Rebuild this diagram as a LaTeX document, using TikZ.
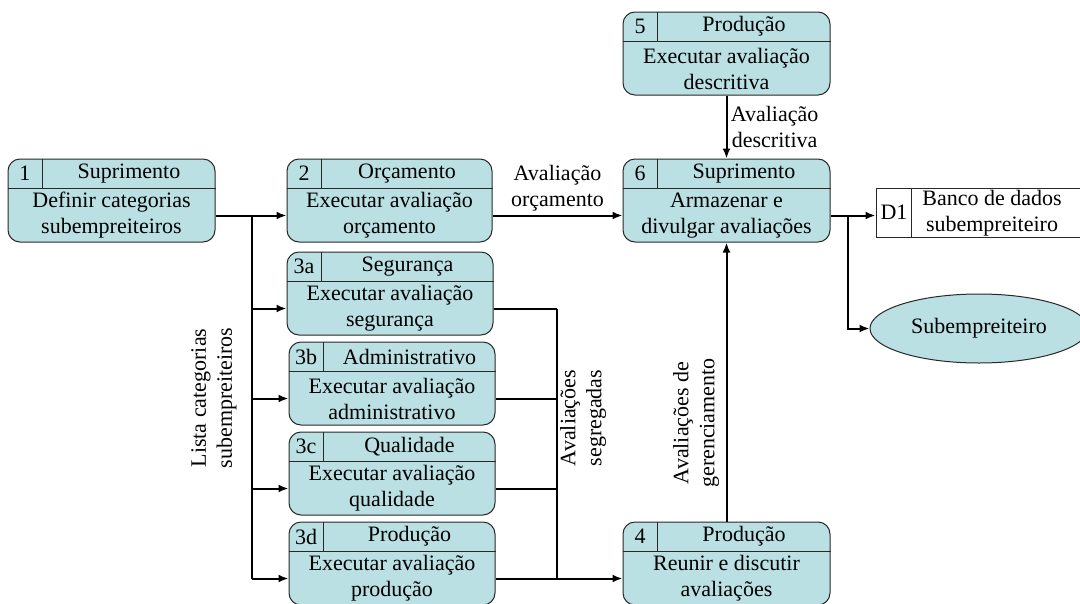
\documentclass[tikz,border=0pt]{standalone}
\usepackage{fontspec}
\setmainfont{Liberation Serif}
\newfontfamily\diagfont{Liberation Serif}
\usetikzlibrary{calc,shapes.geometric,arrows.meta}

\definecolor{procfill}{RGB}{186,224,227}
\definecolor{procline}{RGB}{40,40,40}

\begin{document}
\begin{tikzpicture}[x=1pt, y=-1pt,
    font=\diagfont\fontsize{22}{26}\selectfont,
    process/.style ={rectangle, rounded corners=12pt, draw=procline, fill=procfill, line width=1pt, minimum height=83pt, inner sep=0pt},
    store/.style ={rectangle, draw=procline, fill=white, line width=1pt, minimum width=210pt, minimum height=49pt, inner sep=0pt},
    entity/.style ={ellipse, draw=procline, fill=procfill, line width=1pt, minimum width=218pt, minimum height=69pt},
    flow/.style ={line width=2pt, -{Latex[length=10pt,width=8pt]}},
    link/.style ={line width=2pt}]
   \useasboundingbox (0,0) rectangle (1080,603);
   % processos
   \foreach \id/\cx/\cy/\bw/\nr/\hd/\desc in {
      p1/111.5/200.5/207/1/Suprimento/{Definir categorias\\subempreiteiros},
      p2/389.5/200.5/205/2/Orçamento/{Executar avaliação\\orçamento},
      p3a/390/293.5/206/3a/Segurança/{Executar avaliação\\segurança},
      p3b/392/383.5/206/3b/Administrativo/{Executar avaliação\\administrativo},
      p3c/392/473.5/206/3c/Qualidade/{Executar avaliação\\qualidade},
      p3d/392/563.5/206/3d/Produção/{Executar avaliação\\produção},
      p4/726.5/563.5/207/4/Produção/{Reunir e discutir\\avaliações},
      p5/726.5/53.5/207/5/Produção/{Executar avaliação\\descritiva},
      p6/726.5/200.5/207/6/Suprimento/{Armazenar e\\divulgar avaliações}}
   {
     \node[process, minimum width=\bw pt] (\id) at (\cx,\cy) {};
     \draw[procline, line width=1pt] ($(\id.north west)+(0,30)$) -- ($(\id.north east)+(0,30)$);
     \draw[procline, line width=1pt] ($(\id.north west)+(35,0)$) -- ($(\id.north west)+(35,30)$);
     \node (\id-k) at ($(\id.north west)+(17.5,15)$) {\nr};
     \node (\id-t) at ($(\id.north west)!0.5!(\id.north east)+(17.5,15)$) {\hd};
     \node[align=center] (\id-b) at ($(\id.center)+(0,15)$) {\desc};
   }
   % deposito e entidade
   \node[store] (d1) at (981,212.5) {};
   \draw[procline, line width=1pt] ($(d1.north west)+(36,0)$) -- ($(d1.south west)+(36,0)$);
   \node (d1-k) at (894,212.5) {D1};
   \node[align=center] (d1-t) at (992,213) {Banco de dados\\subempreiteiro};
   \node[entity] (sub) at (979,328.5) {Subempreiteiro};
   % fluxos
   \coordinate (trunk) at (252,0);
   \coordinate (merge) at (557,0);
   \coordinate (fork) at (848,0);
   \draw[flow] (p1.east |- p1-b) -- (p2.west |- p1-b);
   \draw[link] (trunk |- p1-b) -- (trunk |- p3d-b);
   \foreach \id in {p3a,p3b,p3c,p3d}
     \draw[flow] (trunk |- \id-b) -- (\id.west |- \id-b);
   \foreach \id in {p3a,p3b,p3c}
     \draw[link] (\id.east |- \id-b) -- (merge |- \id-b);
   \draw[link] (merge |- p3a-b) -- (merge |- p3d-b);
   \draw[flow] (p3d.east |- p3d-b) -- (p4.west |- p3d-b);
   \draw[flow] (p2.east |- p2-b) -- node[above, align=center] (orc) {Avaliação\\orçamento} (p6.west |- p2-b);
   \draw[flow] (p5) -- node[right, align=center] (descr) {Avaliação\\descritiva} (p6);
   \draw[flow] (p4) -- (p6);
   \draw[flow] (p6.east |- p6-b) -- (d1.west |- p6-b);
   \draw[flow] (fork |- p6-b) -- (fork |- sub) -- (sub);
   % rotulos
   \node[rotate=90, align=center] (lista) at (214,398) {Lista categorias\\subempreiteiros};
   \node[rotate=90, align=center] (segreg) at (583,418) {Avaliações\\segregadas};
   \node[rotate=90, align=center] (gerenc) at (696,423) {Avaliações de\\gerenciamento};
 \end{tikzpicture}
\end{document}
